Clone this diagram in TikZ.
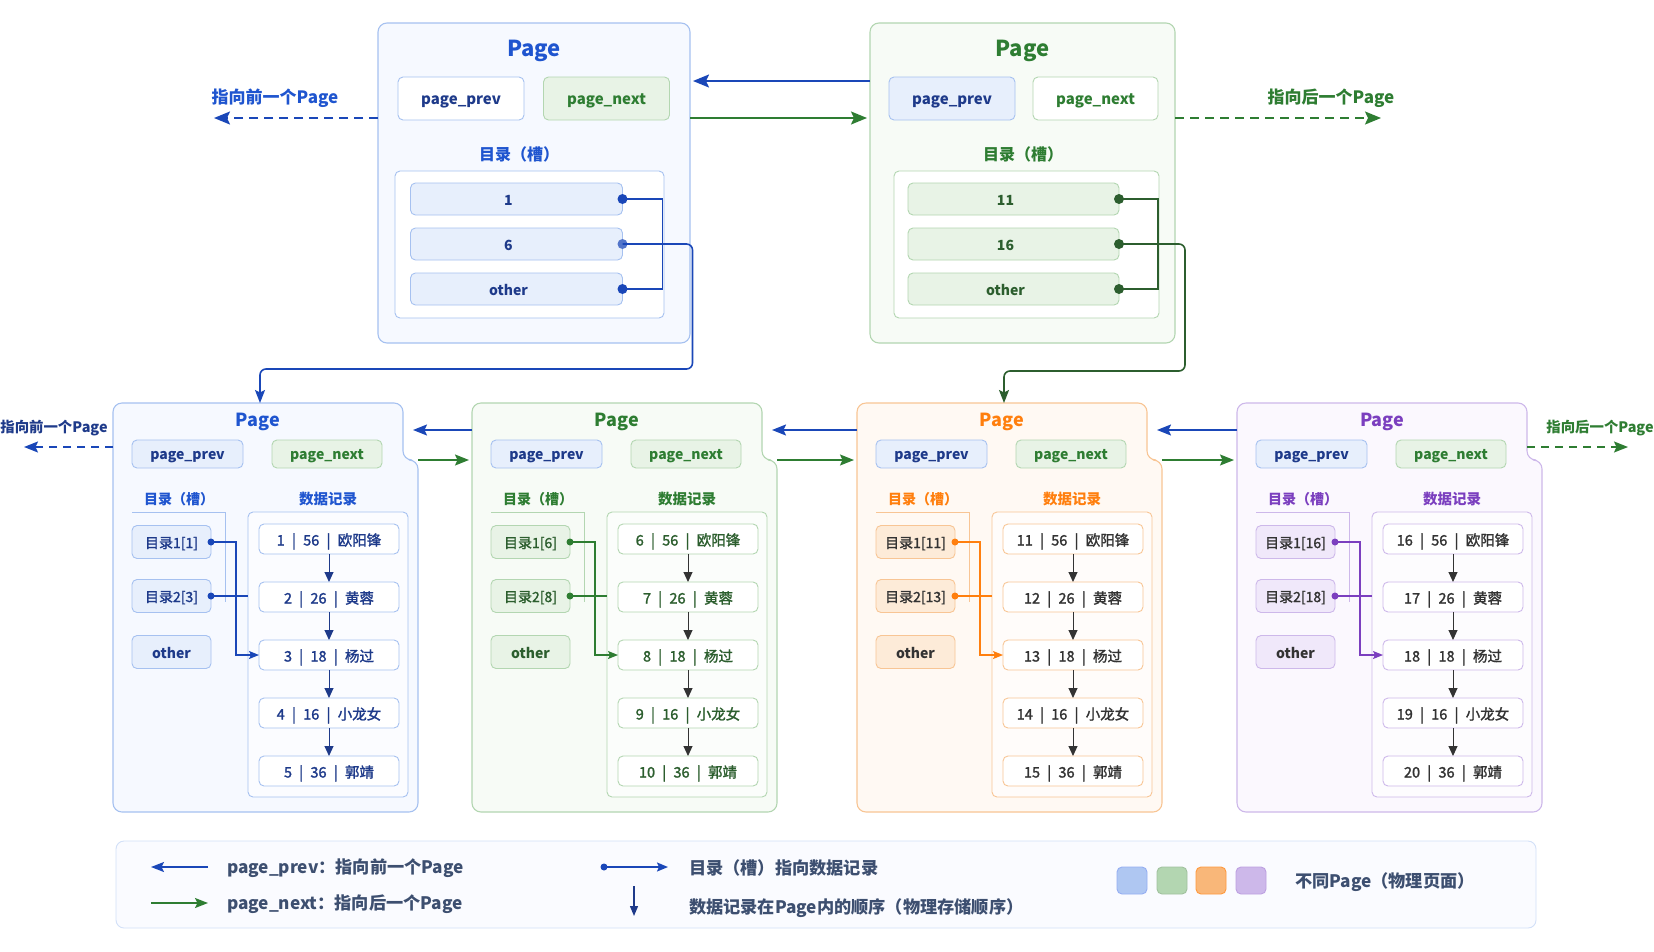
\documentclass[tikz,border=0pt]{standalone}
\usepackage{fontspec}
\setmainfont{Noto Sans CJK SC}
\newfontfamily\medfont{Noto Sans CJK SC}[FakeBold=1.6]
\usetikzlibrary{arrows.meta,calc}
\definecolor{Bti}{HTML}{1F55CF}
\definecolor{Bnavy}{HTML}{1E3A8A}
\definecolor{Bln}{HTML}{1A47B8}
\definecolor{Bbd}{HTML}{A6C1F0}
\definecolor{Bfl}{HTML}{F6F9FF}
\definecolor{Bsl}{HTML}{E7EFFC}
\definecolor{Gti}{HTML}{2E7D32}
\definecolor{Gdk}{HTML}{2C5E2E}
\definecolor{Gln}{HTML}{2E7D32}
\definecolor{Gbd}{HTML}{B3D6B1}
\definecolor{Gfl}{HTML}{F7FBF6}
\definecolor{Gsl}{HTML}{E8F3E6}
\definecolor{Oti}{HTML}{FF7F0E}
\definecolor{Obd}{HTML}{F8C594}
\definecolor{Ofl}{HTML}{FFF9F3}
\definecolor{Osl}{HTML}{FDEBD8}
\definecolor{Pti}{HTML}{7B3FBF}
\definecolor{Pbd}{HTML}{CDB8EA}
\definecolor{Pfl}{HTML}{FBF8FE}
\definecolor{Psl}{HTML}{F0E8FA}
\definecolor{Dk}{HTML}{333333}
\definecolor{Lg}{HTML}{3D4F70}
\begin{document}
\begin{tikzpicture}[x=1pt,y=-1pt,
  every node/.style={inner sep=0pt,outer sep=0pt},
  pgbox/.style={rounded corners=9pt,line width=1.1pt},
  rbox/.style={draw,rounded corners=5pt,line width=0.9pt},
  tprev/.style={rbox,minimum width=126,minimum height=43,text height=13pt,text depth=1pt,font=\bfseries\fontsize{15}{17}\selectfont},
  tslot/.style={rbox,minimum width=212,minimum height=32,text height=13pt,text depth=1pt,font=\bfseries\fontsize{14}{16}\selectfont},
  bprev/.style={rbox,draw=Bbd,fill=Bsl,text=Bnavy,minimum width=111,minimum height=28,text height=11.5pt,text depth=1pt,font=\bfseries\fontsize{14}{16}\selectfont},
  bnext/.style={rbox,draw=Gbd,fill=Gsl,text=Gti,minimum width=110,minimum height=28,text height=11.5pt,text depth=1pt,font=\bfseries\fontsize{14}{16}\selectfont},
  bslot/.style={rbox,minimum width=79,minimum height=33,text height=13pt,text depth=1pt,font=\medfont\fontsize{14}{16}\selectfont},
  brec/.style={rbox,fill=white,minimum width=140,minimum height=30,text height=14pt,text depth=1pt,font=\medfont\fontsize{14.5}{16}\selectfont},
  parr/.style={line width=1.8pt,-{Stealth[length=16pt,width=13pt,inset=3pt]}},
  bparr/.style={line width=1.6pt,-{Stealth[length=14pt,width=11pt,inset=2.5pt]}},
  sarr/.style={line width=1.3pt,-{Stealth[length=10pt,width=8pt,inset=2pt]}},
  oarr/.style={line width=1pt,-{Triangle[length=10pt,width=9pt]}},
  lgtext/.style={anchor=west,text=Lg,font=\bfseries\fontsize{17.2}{19}\selectfont},
]
\useasboundingbox (0,0) rectangle (1654,951);
\fill[white] (0,0) rectangle (1654,951);

% ---------- top-left page ----------
\draw[pgbox,draw=Bbd,fill=Bfl] (378,23) rectangle (690,343);
\node[font=\bfseries\fontsize{22}{24}\selectfont,text=Bti] (tl-title) at (534,51) {Page};
\node[tprev,draw=Bbd,fill=white,text=Bnavy] (tl-prev) at (461,98.5) {page\_prev};
\node[tprev,draw=Gbd,fill=Gsl,text=Gti] (tl-next) at (606.5,98.5) {page\_next};
\node[font=\bfseries\fontsize{16}{18}\selectfont,text=Bti] (tl-lbl) at (519,154) {目录（槽）};
\node[rbox,draw=Bbd,fill=white,minimum width=269,minimum height=147] (tl-in) at (529.5,244.5) {};
\node[tslot,draw=Bbd,fill=Bsl,text=Bnavy] (tl-s1) at (516.5,199) {\hspace*{-16pt}1};
\node[tslot,draw=Bbd,fill=Bsl,text=Bnavy] (tl-s2) at (516.5,244) {\hspace*{-16pt}6};
\node[tslot,draw=Bbd,fill=Bsl,text=Bnavy] (tl-s3) at (516.5,289) {\hspace*{-16pt}other};

% ---------- top-right page ----------
\draw[pgbox,draw=Gbd,fill=Gfl] (870,23) rectangle (1175,343);
\node[font=\bfseries\fontsize{22}{24}\selectfont,text=Gti] (tr-title) at (1022.5,51) {Page};
\node[tprev,draw=Bbd,fill=Bsl,text=Bnavy] (tr-prev) at (952,98.5) {page\_prev};
\node[tprev,draw=Gbd,fill=white,text=Gti,minimum width=125] (tr-next) at (1095.5,98.5) {page\_next};
\node[font=\bfseries\fontsize{16}{18}\selectfont,text=Gti] (tr-lbl) at (1023,154) {目录（槽）};
\node[rbox,draw=Gbd,fill=white,minimum width=265,minimum height=147] (tr-in) at (1026.5,244.5) {};
\node[tslot,draw=Gbd,fill=Gsl,text=Gdk,minimum width=211] (tr-s1) at (1013.5,199) {\hspace*{-16pt}11};
\node[tslot,draw=Gbd,fill=Gsl,text=Gdk,minimum width=211] (tr-s2) at (1013.5,244) {\hspace*{-16pt}16};
\node[tslot,draw=Gbd,fill=Gsl,text=Gdk,minimum width=211] (tr-s3) at (1013.5,289) {\hspace*{-16pt}other};

% ---------- bottom pages ----------
\foreach \i/\x/\pc/\tc/\ac/\lc/\rs/\sb in {1/113/B/Bnavy/Bnavy/Bln/1/3,2/472/G/Gdk/Dk/Gln/6/8,3/857/O/Dk/Dk/Oti/11/13,4/1237/P/Dk/Dk/Pti/16/18}{
  \draw[pgbox,draw=\pc bd,fill=\pc fl] (\x,403) -- (\x+290,403) -- (\x+290,460) -- (\x+305,460) -- (\x+305,812) -- (\x,812) -- cycle;
  \node[font=\bfseries\fontsize{18}{20}\selectfont,text=\pc ti] (p\i-title) at (\x+145,422) {Page};
  \node[bprev] (p\i-prev) at (\x+74.5,454) {page\_prev};
  \node[bnext] (p\i-next) at (\x+214,454) {page\_next};
  \node[font=\bfseries\fontsize{14}{16}\selectfont,text=\pc ti] (p\i-l1) at (\x+66,499) {目录（槽）};
  \node[font=\bfseries\fontsize{14.5}{16}\selectfont,text=\pc ti] (p\i-l2) at (\x+215,499) {数据记录};
  \draw[\pc bd,line width=0.8pt] (\x+19,512) -- (\x+112,512) -- (\x+112,602);
  \node[rbox,draw=\pc bd,fill=white,fill opacity=0.6,minimum width=160,minimum height=285] (p\i-rec) at (\x+215,654.5) {};
  \node[bslot,draw=\pc bd,fill=\pc sl,text=\tc] (p\i-s1) at (\x+58.5,542) {目录1[\rs]};
  \node[bslot,draw=\pc bd,fill=\pc sl,text=\tc] (p\i-s2) at (\x+58.5,596) {目录2[\sb]};
  \node[bslot,draw=\pc bd,fill=\pc sl,text=\tc,font=\bfseries\fontsize{14}{16}\selectfont] (p\i-s3) at (\x+58.5,652) {other};
  \foreach \j/\ag/\nm in {1/56/欧阳锋,2/26/黄蓉,3/18/杨过,4/16/小龙女,5/36/郭靖}{
    \pgfmathsetmacro\yy{539+58*(\j-1)}
    \node[brec,draw=\pc bd,text=\tc] (p\i-r\j) at (\x+216,\yy) {\the\numexpr\rs+\j-1\relax\enspace|\enspace\ag\enspace|\enspace\nm};
  }
  \foreach \j/\k in {1/2,2/3,3/4,4/5}{
    \draw[oarr,\ac] (p\i-r\j.south) -- (p\i-r\k.north);
  }
  \fill[\lc] (p\i-s1.east) circle (3.5);
  \fill[\lc] (p\i-s2.east) circle (3.5);
  \draw[sarr,\lc] (p\i-s1.east) -- ++(25,0) |- (p\i-r3.west);
  \draw[line width=1.3pt,\lc] (p\i-s2.east) -- (p\i-s2.east -| p\i-rec.west);
  \coordinate (p\i-wA) at (\x,430);
  \coordinate (p\i-eA) at (\x+300,430);
  \coordinate (p\i-eB) at (\x+305,460);
  \coordinate (p\i-wB) at (\x-3,460);
}

% ---------- top slot connectors ----------
\fill[Bln] (tl-s1.east) circle (5);
\fill[Bln!75] (tl-s2.east) circle (5);
\fill[Bln] (tl-s3.east) circle (5);
\draw[line width=1.3pt,Bln] (tl-s1.east) -- ++(40,0) |- (tl-s3.east);
\coordinate (p1-in) at (260,403);
\coordinate (p3-in) at (1004,403);
\draw[line width=1.6pt,Bln,rounded corners=6pt,-{Stealth[length=13pt,width=10pt,inset=2.5pt]}] (tl-s2.east) -- ++(70,0) |- ($(p1-in)+(0,-34)$) -- (p1-in);
\fill[Gdk] (tr-s1.east) circle (5);
\fill[Gdk] (tr-s2.east) circle (5);
\fill[Gdk] (tr-s3.east) circle (5);
\draw[line width=1.3pt,Gdk] (tr-s1.east) -- ++(39,0) |- (tr-s3.east);
\draw[line width=1.6pt,Gdk,rounded corners=6pt,-{Stealth[length=13pt,width=10pt,inset=2.5pt]}] (tr-s2.east) -- ++(66,0) |- ($(p3-in)+(0,-32)$) -- (p3-in);

% ---------- top page arrows ----------
\coordinate (tl-e1) at (693,81);
\coordinate (tr-w1) at (870,81);
\coordinate (tl-e2) at (690,118);
\coordinate (tr-w2) at (867,118);
\coordinate (tl-w) at (378,118);
\coordinate (tr-e) at (1175,118);
\coordinate (lft) at (214,118);
\coordinate (rgt) at (1381,118);
\draw[parr,Bln] (tr-w1) -- (tl-e1);
\draw[parr,Gln] (tl-e2) -- (tr-w2);
\draw[parr,Bln,dash pattern=on 9pt off 6pt] (tl-w) -- (lft);
\draw[parr,Gln,dash pattern=on 9pt off 6pt] (tr-e) -- (rgt);
\node[font=\bfseries\fontsize{17}{19}\selectfont,text=Bti] (lbl-prev) at (275,98) {指向前一个Page};
\node[font=\bfseries\fontsize{17}{19}\selectfont,text=Gti] (lbl-next) at (1331,98) {指向后一个Page};

% ---------- bottom page arrows ----------
\foreach \i/\j in {1/2,2/3,3/4}{
  \draw[bparr,Bln] (p\j-wA) -- (p\i-eA);
  \draw[bparr,Gln] (p\i-eB) -- (p\j-wB);
}
\coordinate (p1-wC) at (113,447);
\coordinate (bl-end) at (24,447);
\coordinate (p4-eC) at (1527,447);
\coordinate (br-end) at (1628,447);
\draw[bparr,Bln,dash pattern=on 8pt off 6pt] (p1-wC) -- (bl-end);
\draw[bparr,Gln,dash pattern=on 8pt off 6pt] (p4-eC) -- (br-end);
\node[font=\bfseries\fontsize{14.4}{16}\selectfont,text=Bnavy] (lbl-bprev) at (54,428) {指向前一个Page};
\node[font=\bfseries\fontsize{14.4}{16}\selectfont,text=Gti] (lbl-bnext) at (1600,428) {指向后一个Page};

% ---------- legend ----------
\node[draw=Bbd!50,fill=Bfl!60,rounded corners=8pt,line width=0.9pt,minimum width=1420,minimum height=87] (legend) at (826,884.5) {};
\coordinate (lg1a) at (208,867); \coordinate (lg1b) at (151,867);
\coordinate (lg2a) at (151,903); \coordinate (lg2b) at (208,903);
\draw[line width=1.8pt,Bln,-{Stealth[length=13pt,width=10pt,inset=2.5pt]}] (lg1a) -- (lg1b);
\draw[line width=1.8pt,Gln,-{Stealth[length=13pt,width=10pt,inset=2.5pt]}] (lg2a) -- (lg2b);
\node[lgtext] (lg-t1) at (227,868) {page\_prev：指向前一个Page};
\node[lgtext] (lg-t2) at (227,904) {page\_next：指向后一个Page};
\coordinate (lg3a) at (604,867); \coordinate (lg3b) at (668,867);
\fill[Bln] (lg3a) circle (3.5);
\draw[line width=1.6pt,Bln,-{Stealth[length=11pt,width=9pt,inset=2pt]}] (lg3a) -- (lg3b);
\node[lgtext] (lg-t3) at (689,868) {目录（槽）指向数据记录};
\coordinate (lg4a) at (634,886); \coordinate (lg4b) at (634,916);
\draw[line width=1.3pt,Bnavy,-{Triangle[length=10pt,width=8pt]}] (lg4a) -- (lg4b);
\node[lgtext] (lg-t4) at (689,908) {数据记录在Page内的顺序（物理存储顺序）};
\node[rbox,draw=Bbd!90!blue,fill=Bbd!90!white,minimum width=30,minimum height=27] (sw1) at (1132,880.5) {};
\node[rbox,draw=Gbd!90!black,fill=Gbd,minimum width=30,minimum height=27] (sw2) at (1172,880.5) {};
\node[rbox,draw=Oti!80,fill=Obd!80!Oti,minimum width=30,minimum height=27] (sw3) at (1211,880.5) {};
\node[rbox,draw=Pbd!80!Pti,fill=Pbd,minimum width=30,minimum height=27] (sw4) at (1251,880.5) {};
\node[lgtext] (lg-t5) at (1295,882) {不同Page（物理页面）};
\end{tikzpicture}
\end{document}
